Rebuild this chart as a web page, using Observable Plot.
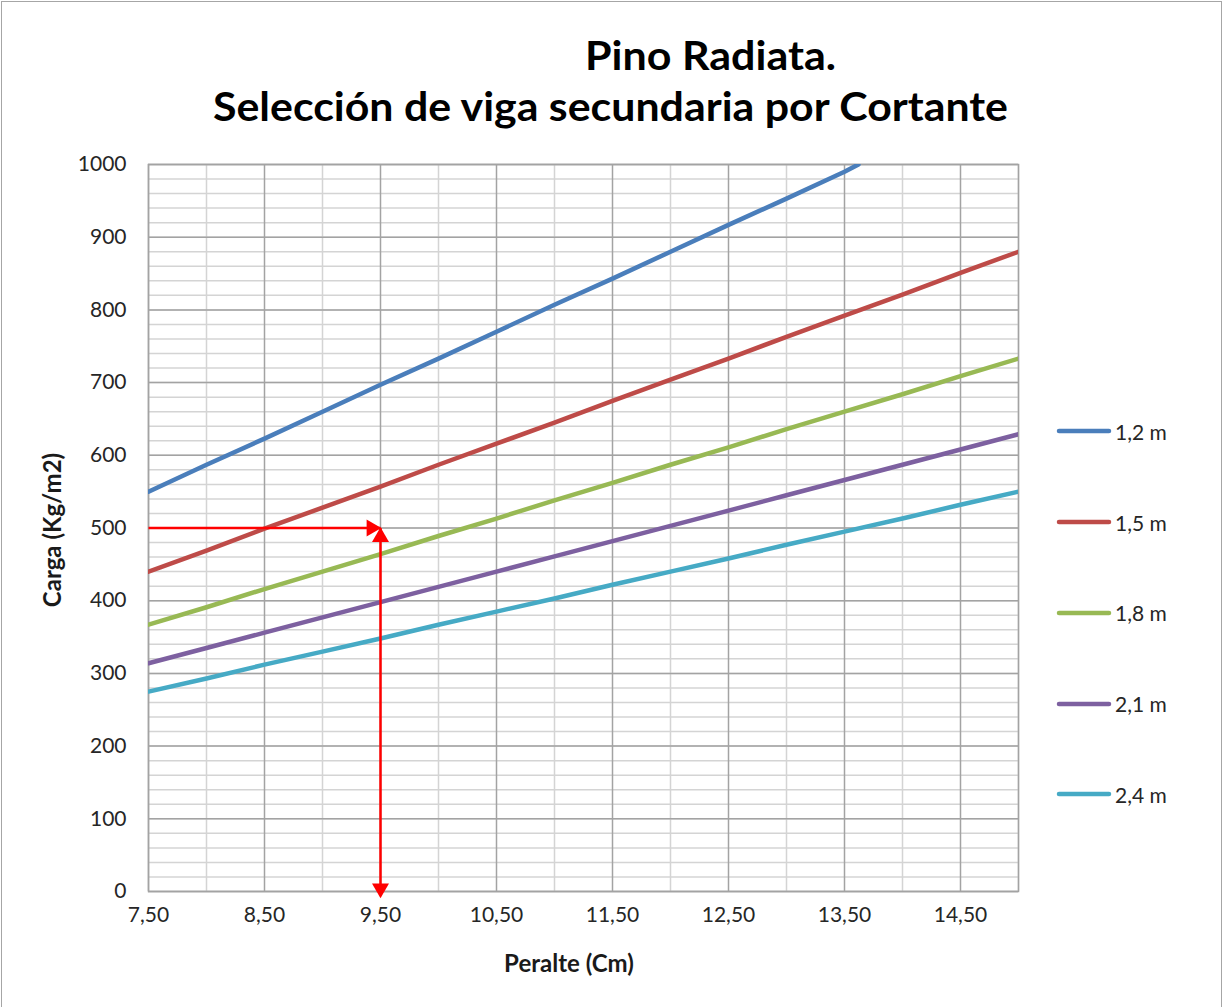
<!DOCTYPE html>
<html>
<head>
<meta charset="utf-8">
<script src="https://cdn.jsdelivr.net/npm/d3@7"></script>
<script src="https://cdn.jsdelivr.net/npm/@observablehq/plot@0.6"></script>
<style>
  body { margin: 0; background: #fff; font-family: Lato, "Open Sans", sans-serif; }
  #chart { position: relative; width: 1223px; height: 1007px; overflow: hidden; background: #fff; }
  #frame { position: absolute; left: 1px; top: 1px; width: 1221px; height: 1020px; border: 1px solid #a6a6a6; box-sizing: border-box; }
  #title { position: absolute; left: 0; top: 0; }
  #plot { position: absolute; left: 0; top: 140px; }
  .axtitle { position: absolute; font-weight: bold; font-size: 24px; color: #1a1a1a; white-space: nowrap; }
  #ytitle { left: 51px; top: 530px; transform: translate(-50%, -50%) rotate(-90deg); }
  #xtitle { left: 569px; top: 962px; transform: translate(-50%, -50%); }
  #legend { position: absolute; left: 1056px; top: 386px; }
  .lrow { display: flex; align-items: center; height: 90.75px; font-size: 21px; color: #262626; }
  .lrow svg { margin-right: 3px; }
</style>
</head>
<body>
<div id="chart">
  <div id="frame"></div>
  <svg id="title" width="1223" height="140">
    <text x="585" y="70" font-family="Lato, sans-serif" font-weight="bold" font-size="40" textLength="251" lengthAdjust="spacingAndGlyphs" fill="#000">Pino Radiata.</text>
    <text x="213" y="121" font-family="Lato, sans-serif" font-weight="bold" font-size="40" textLength="795" lengthAdjust="spacingAndGlyphs" fill="#000">Selección de viga secundaria por Cortante</text>
  </svg>
  <div id="plot"></div>
  <div class="axtitle" id="ytitle">Carga (Kg/m2)</div>
  <div class="axtitle" id="xtitle">Peralte (Cm)</div>
  <div id="legend"></div>
</div>
<script>
// ---- data ----
const peralte = [7.5, 8.0, 8.5, 9.0, 9.5, 10.0, 10.5, 11.0, 11.5, 12.0, 12.5, 13.0, 13.5, 14.0, 14.5, 15.0];
const peralte12 = [7.5, 8.0, 8.5, 9.0, 9.5, 10.0, 10.5, 11.0, 11.5, 12.0, 12.5, 13.0, 13.5, 13.62];
const carga12 = [550, 587, 623, 660, 697, 733, 770, 807, 843, 880, 917, 953, 990, 1000];
const carga15 = [440, 469, 499, 528, 557, 587, 616, 645, 675, 704, 733, 763, 792, 821, 851, 880];
const carga18 = [367, 391, 416, 440, 464, 489, 513, 538, 562, 587, 611, 636, 660, 684, 709, 733];
const carga21 = [314, 335, 356, 377, 398, 419, 440, 461, 482, 503, 524, 545, 566, 587, 608, 629];
const carga24 = [275, 293, 312, 330, 348, 367, 385, 403, 422, 440, 458, 477, 495, 513, 532, 550];
const seriesNames = ["1,2 m", "1,5 m", "1,8 m", "2,1 m", "2,4 m"];
const seriesColors = ["#4A7EBB", "#BE4B48", "#98B954", "#7D60A0", "#46AAC5"];
const xTicks = [7.5, 8.5, 9.5, 10.5, 11.5, 12.5, 13.5, 14.5];
const yTicks = [0, 100, 200, 300, 400, 500, 600, 700, 800, 900, 1000];
// example reading (red guide arrows)
const guidePeralte = 9.5;
const guideCarga = 500;

// ---- build table ----
const seriesX = [peralte12, peralte, peralte, peralte, peralte];
const seriesY = [carga12, carga15, carga18, carga21, carga24];
const rows = [];
seriesNames.forEach((name, i) => {
  seriesX[i].forEach((x, j) => rows.push({serie: name, x, y: seriesY[i][j]}));
});

const minorY = d3.range(0, 1001, 20);
const minorX = d3.range(8, 15.01, 1);
const majorX = xTicks;

const plot = Plot.plot({
  width: 1040,
  height: 840,
  marginLeft: 148,
  marginRight: 22,
  marginTop: 24,
  marginBottom: 89,
  style: { fontFamily: "Lato, 'Open Sans', sans-serif", fontSize: "21px", color: "#262626", background: "transparent", overflow: "visible" },
  x: { domain: [7.5, 15], ticks: xTicks, tickFormat: d => d.toFixed(2).replace(".", ","), tickSize: 0, tickPadding: 16, label: null },
  y: { domain: [0, 1000], ticks: yTicks, tickFormat: d => String(d), tickSize: 0, tickPadding: 22, label: null },
  color: { domain: seriesNames, range: seriesColors },
  marks: [
    Plot.ruleY(minorY, { stroke: "#d4d4d4", strokeWidth: 1.5 }),
    Plot.ruleX(minorX, { stroke: "#d4d4d4", strokeWidth: 1.5 }),
    Plot.ruleY(yTicks, { stroke: "#a3a3a3", strokeWidth: 1.5 }),
    Plot.ruleX(majorX, { stroke: "#a3a3a3", strokeWidth: 1.5 }),
    Plot.frame({ stroke: "#a3a3a3", strokeWidth: 1.5 }),
    Plot.line(rows, { x: "x", y: "y", z: "serie", stroke: "serie", strokeWidth: 4.5, clip: true }),
    Plot.link([{}], { x1: () => 7.5, x2: () => guidePeralte, y1: () => guideCarga, y2: () => guideCarga, stroke: "#FF0000", strokeWidth: 2.5 }),
    Plot.link([{}], { x1: () => guidePeralte, x2: () => guidePeralte, y1: () => 0, y2: () => guideCarga, stroke: "#FF0000", strokeWidth: 2.5 }),
    Plot.dot([{}], { x: () => guidePeralte, y: () => guideCarga, symbol: "triangle", r: 6.3, fill: "#FF0000", stroke: "none", rotate: 90, dx: -9 }),
    Plot.dot([{}], { x: () => guidePeralte, y: () => guideCarga, symbol: "triangle", r: 6.3, fill: "#FF0000", stroke: "none", rotate: 0, dy: 9 }),
    Plot.dot([{}], { x: () => guidePeralte, y: () => 0, symbol: "triangle", r: 6.3, fill: "#FF0000", stroke: "none", rotate: 180, dy: -3 })
  ]
});
document.getElementById("plot").appendChild(plot);

// ---- legend ----
const legend = document.getElementById("legend");
seriesNames.forEach((name, i) => {
  const row = document.createElement("div");
  row.className = "lrow";
  row.innerHTML = `<svg width="56" height="10"><line x1="3" y1="5" x2="53" y2="5" stroke="${seriesColors[i]}" stroke-width="4.5" stroke-linecap="round"/></svg><span>${name}</span>`;
  legend.appendChild(row);
});
</script>
</body>
</html>
